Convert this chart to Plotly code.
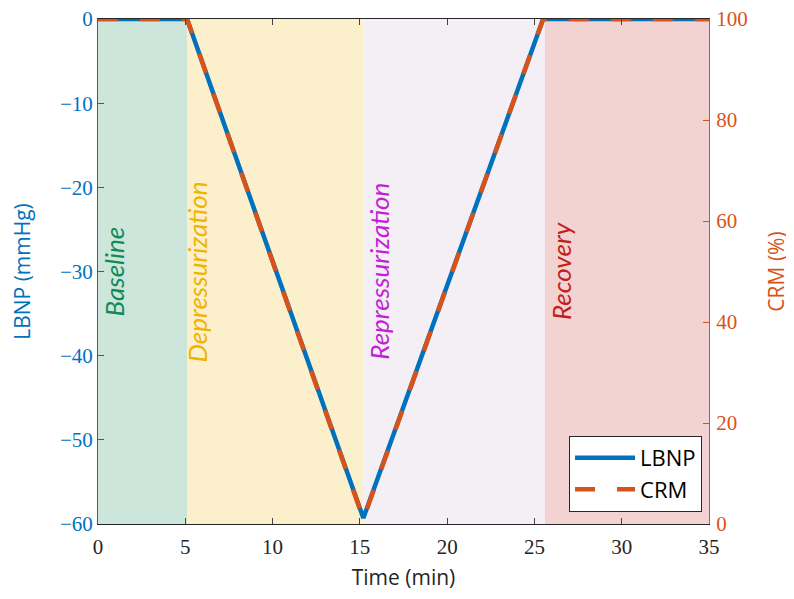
import plotly.graph_objects as go

# Data
time_min = [0, 5.1, 15.2, 25.5, 35]
lbnp_mmhg = [0, 0, -59.3, 0, 0]
crm_pct = [100, 100, 1.0, 100, 100]

phase_names = ["Baseline", "Depressurization", "Repressurization", "Recovery"]
phase_start = [0, 5.1, 15.2, 25.6]
phase_end = [5.1, 15.2, 25.6, 35]
phase_fill = ["#cde6dc", "#fcefcc", "#f4eff4", "#f2d3d2"]
phase_text_color = ["#128a55", "#f0b400", "#c21fd6", "#c01f1a"]
phase_label_x = [0.86, 5.67, 16.05, 26.5]

xticks = [0, 5, 10, 15, 20, 25, 30, 35]
yticks_left = [0, -10, -20, -30, -40, -50, -60]
yticks_right = [0, 20, 40, 60, 80, 100]

blue = "#0072BD"
orange = "#D95319"

fig = go.Figure()

fig.add_trace(go.Scatter(x=time_min, y=lbnp_mmhg, mode="lines", name="LBNP",
                         line=dict(color=blue, width=4.5), yaxis="y"))
fig.add_trace(go.Scatter(x=time_min, y=crm_pct, mode="lines", name="CRM",
                         line=dict(color=orange, width=4.5, dash="20px,22px"), yaxis="y2"))

for s, e, c in zip(phase_start, phase_end, phase_fill):
    fig.add_shape(type="rect", xref="x", yref="y", x0=s, x1=e, y0=-60, y1=0,
                  fillcolor=c, line=dict(width=0), layer="below")

for name, xv, col in zip(phase_names, phase_label_x, phase_text_color):
    fig.add_annotation(x=xv, y=-30, xref="x", yref="y", text="<i>%s</i>" % name,
                       showarrow=False, textangle=-90,
                       font=dict(family="Lato", size=26, color=col))

serif = "Liberation Serif, DejaVu Serif, serif"

fig.update_layout(
    width=794, height=599,
    margin=dict(l=90, r=93, t=11, b=83, autoexpand=False),
    plot_bgcolor="white", paper_bgcolor="white",
    showlegend=True,
    legend=dict(x=0.9886, y=0.024, xanchor="right", yanchor="bottom",
                bgcolor="white", bordercolor="#262626", borderwidth=1,
                itemwidth=60, tracegroupgap=4,
                font=dict(family="Open Sans", size=22, color="black")),
    xaxis=dict(range=[0, 35], tickvals=xticks, ticks="inside", ticklen=6,
               showline=True, linecolor="#262626", linewidth=1, mirror="ticks",
               showgrid=False, zeroline=False, automargin=False,
               ticklabeloverflow="allow", ticklabelstandoff=4,
               tickfont=dict(family=serif, size=21, color="#262626"),
               title=dict(text="Time (min)", font=dict(family="Open Sans", size=21, color="#262626"),
                          standoff=12)),
    yaxis=dict(range=[-60, 0], tickvals=yticks_left, ticks="inside", ticklen=6,
               showline=True, linecolor=blue, linewidth=1, tickcolor=blue,
               showgrid=False, zeroline=False, automargin=False,
               ticklabeloverflow="allow",
               tickfont=dict(family=serif, size=21, color=blue),
               title=dict(text="LBNP (mmHg)", font=dict(family="Open Sans", size=21, color=blue),
                          standoff=32)),
    yaxis2=dict(range=[0, 100], tickvals=yticks_right, ticks="inside", ticklen=6,
                overlaying="y", side="right", automargin=False,
                ticklabeloverflow="allow", ticklabelstandoff=2,
                showline=True, linecolor=orange, linewidth=1, tickcolor=orange,
                showgrid=False, zeroline=False,
                tickfont=dict(family=serif, size=21, color=orange),
                title=dict(text="CRM (%)", font=dict(family="Open Sans", size=21, color=orange),
                           standoff=22)),
)

fig.write_html("out.html")
